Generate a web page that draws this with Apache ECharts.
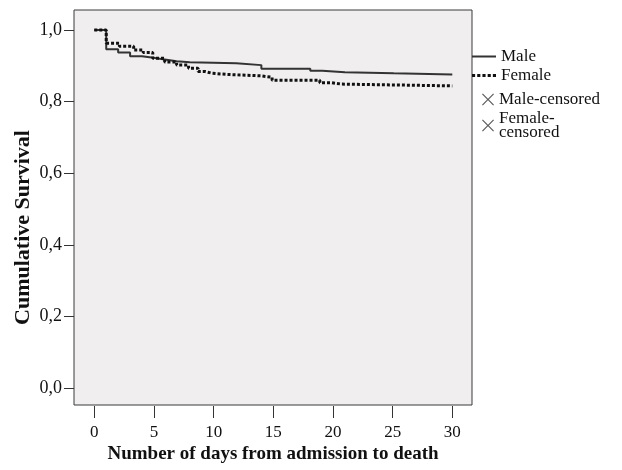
<!DOCTYPE html>
<html>
<head>
<meta charset="utf-8">
<script src="https://cdn.jsdelivr.net/npm/echarts@6.0.0/dist/echarts.min.js"></script>
<style>
  html, body { margin: 0; padding: 0; background: #fff; }
  #main { width: 622px; height: 470px; }
</style>
</head>
<body>
<div id="main"></div>
<script>
// KM steps: [day, cumulative survival]
var maleSteps = [[0, 1.0], [1, 0.946], [2, 0.937], [3, 0.927], [4, 0.923], [4.8, 0.918],
  [5.9, 0.913], [6.9, 0.910], [8, 0.907], [11.9, 0.902], [14, 0.892], [18.1, 0.886],
  [19.1, 0.882], [21, 0.879], [25.1, 0.876], [30, 0.876]];
var femaleSteps = [[0, 1.0], [1, 0.963], [2.1, 0.955], [3.3, 0.944], [4.1, 0.937], [4.9, 0.921],
  [5.9, 0.911], [6.9, 0.902], [7.9, 0.893], [8.7, 0.884], [9.3, 0.879], [9.9, 0.876],
  [11.1, 0.872], [14, 0.868], [14.9, 0.860], [18.9, 0.853], [19.9, 0.849], [20.7, 0.844], [30, 0.844]];
// no censored marks are visible in the plot
var maleCensored = [];
var femaleCensored = [];
var xTicks = [0, 5, 10, 15, 20, 25, 30];
var yTicks = [0, 0.2, 0.4, 0.6, 0.8, 1.0];

var serif = 'Liberation Serif';
// legend icons: solid bar, row of dots, thin X
var solidIcon = 'path://M0,0 L24,0 L24,2 L0,2 Z';
var dottedIcon = 'path://M0,0 h3 v3 h-3 Z M5,0 h3 v3 h-3 Z M10,0 h3 v3 h-3 Z M15,0 h3 v3 h-3 Z M20,0 h3 v3 h-3 Z';
var crossIcon = 'path://M0,1 L1,0 L7,6 L13,0 L14,1 L8,7 L14,13 L13,14 L7,8 L1,14 L0,13 L6,7 Z';

var chart = echarts.init(document.getElementById('main'), null, { renderer: 'canvas' });

var option = {
  animation: false,
  backgroundColor: '#ffffff',
  grid: {
    left: 74,
    top: 10,
    width: 398,
    height: 395,
    show: true,
    backgroundColor: '#f0eeef',
    borderColor: '#3a3a3a',
    borderWidth: 1
  },
  legend: [{
    orient: 'vertical',
    left: 472,
    top: 48,
    padding: 0,
    itemWidth: 24,
    itemHeight: 14,
    itemGap: 2,
    data: [
      { name: 'Male', icon: solidIcon },
      { name: 'Female', icon: dottedIcon }
    ],
    textStyle: { fontFamily: serif, fontSize: 17, color: '#111' }
  }, {
    orient: 'vertical',
    left: 482,
    top: 91,
    padding: 0,
    itemWidth: 12,
    itemHeight: 12,
    itemGap: 2,
    data: [
      { name: 'Male-censored', icon: crossIcon },
      { name: 'Female-censored', icon: crossIcon }
    ],
    formatter: function (name) {
      return name === 'Female-censored' ? 'Female-\ncensored' : name;
    },
    textStyle: { fontFamily: serif, fontSize: 17, lineHeight: 14, color: '#111' }
  }],
  xAxis: {
    type: 'value',
    min: -1.7,
    max: 31.65,
    offset: 1,
    name: 'Number of days from admission to death',
    nameLocation: 'middle',
    nameGap: 39,
    nameMoveOverlap: false,
    nameTextStyle: { fontFamily: serif, fontSize: 19, fontWeight: 'bold', color: '#111' },
    axisLine: { show: false, onZero: false },
    axisTick: { show: true, length: 12, customValues: xTicks, lineStyle: { color: '#333' } },
    axisLabel: {
      customValues: xTicks,
      margin: 18,
      fontFamily: serif, fontSize: 17, color: '#111'
    },
    splitLine: { show: false }
  },
  yAxis: {
    type: 'value',
    min: -0.0475,
    max: 1.056,
    name: 'Cumulative Survival',
    nameLocation: 'middle',
    nameGap: 40,
    nameMoveOverlap: false,
    nameTextStyle: {
      fontFamily: serif, fontSize: 22, fontWeight: 'bold', color: '#111',
      padding: [0, 40, 0, 0]
    },
    axisLine: { show: false, onZero: false },
    axisTick: { show: true, length: 10, customValues: yTicks, lineStyle: { color: '#333' } },
    axisLabel: {
      customValues: yTicks,
      margin: 12,
      fontFamily: serif, fontSize: 18, color: '#111',
      formatter: function (v) { return v.toFixed(1).replace('.', ','); }
    },
    splitLine: { show: false }
  },
  series: [{
    name: 'Male',
    type: 'line',
    step: 'end',
    symbol: 'none',
    data: maleSteps,
    itemStyle: { color: '#333' },
    lineStyle: { color: '#333', width: 2 }
  }, {
    name: 'Female',
    type: 'line',
    step: 'end',
    symbol: 'none',
    data: femaleSteps,
    itemStyle: { color: '#111' },
    lineStyle: { color: '#111', width: 3, type: [3, 2], cap: 'butt' }
  }, {
    name: 'Male-censored',
    type: 'scatter',
    symbol: crossIcon,
    symbolSize: 12,
    data: maleCensored,
    itemStyle: { color: '#333' }
  }, {
    name: 'Female-censored',
    type: 'scatter',
    symbol: crossIcon,
    symbolSize: 12,
    data: femaleCensored,
    itemStyle: { color: '#333' }
  }]
};

chart.setOption(option);
</script>
</body>
</html>
